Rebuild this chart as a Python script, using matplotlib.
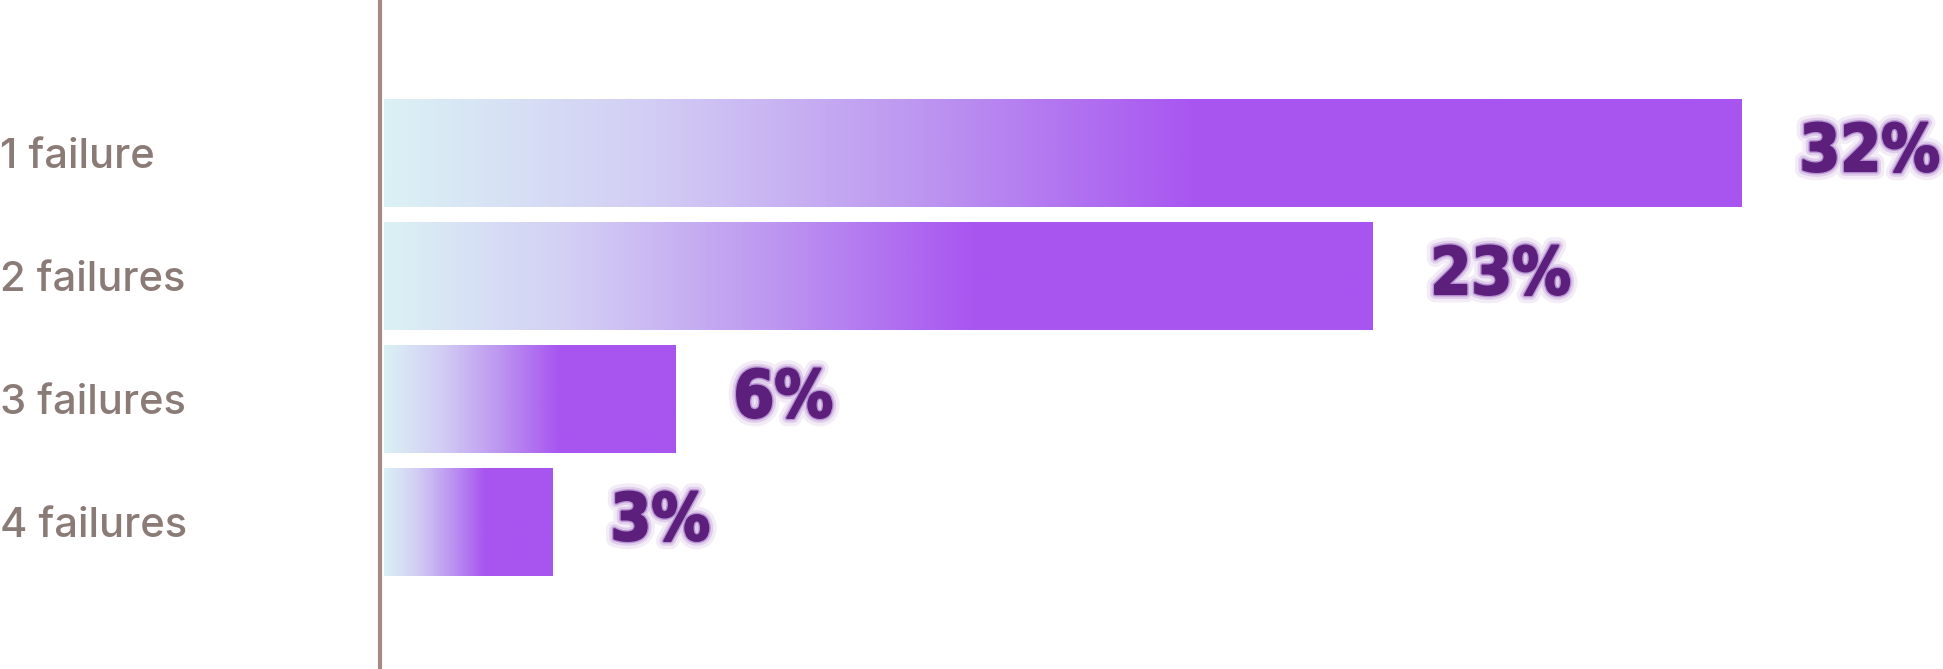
import numpy as np
import matplotlib
matplotlib.use("Agg")
import matplotlib.pyplot as plt
from matplotlib.colors import LinearSegmentedColormap
import matplotlib.patheffects as pe

categories = ["1 failure", "2 failures", "3 failures", "4 failures"]
values = [32, 23, 6, 3]
value_labels = ["32%", "23%", "6%", "3%"]

W, H, DPI = 1943, 669, 100
fig = plt.figure(figsize=(W / DPI, H / DPI), dpi=DPI)
fig.patch.set_facecolor("white")

ax_left_px = 380
ax = fig.add_axes([ax_left_px / W, 0, 1 - ax_left_px / W, 1])
ax.set_facecolor("none")

base = -1.1          # bars start slightly left of zero
px_per_unit = 41.0
xmin = base - 4 / px_per_unit
xmax = xmin + (W - ax_left_px) / px_per_unit
ax.set_xlim(xmin, xmax)

y = np.arange(len(categories))
ax.set_ylim(3 + 1.195, -1.244)
bar_h = 0.878

cmap = LinearSegmentedColormap.from_list(
    "grad", ["#DBF1F5", "#D2CCF4", "#BC95F0", "#A855F0"])
t = np.linspace(0, 1, 400)
s = np.clip(t / 0.6, 0, 1)
grad = cmap(s)[None, :, :]

for yi, v in zip(y, values):
    ax.imshow(grad, extent=(base, v, yi + bar_h / 2, yi - bar_h / 2),
              aspect="auto", interpolation="bilinear", zorder=2)

for yi, v, lab in zip(y, values, value_labels):
    ax.annotate(lab, xy=(v, yi), xytext=(42, 0), textcoords="offset points",
                ha="left", va="center", fontsize=47, fontweight="heavy",
                fontstretch="condensed",
                color="#5C1F7C",
                family=["DejaVu Sans"],
                path_effects=[pe.withStroke(linewidth=12, foreground="#F3ECF7"),
                              pe.withStroke(linewidth=7, foreground="#DFCDEB"),
                              pe.withStroke(linewidth=3.5, foreground="#B792D2"),
                              pe.withStroke(linewidth=1.5, foreground="#5C1F7C"),
                              pe.Normal()],
                zorder=3)

# spines / ticks
for side in ["top", "right", "bottom"]:
    ax.spines[side].set_visible(False)
ax.spines["left"].set_color("#A38A82")
ax.spines["left"].set_linewidth(3)
ax.set_xticks([])
ax.set_yticks(y)
ax.set_yticklabels(categories, family=["Inter", "DejaVu Sans"], fontsize=30,
                   fontweight="medium", color="#8B7B76")
ax.tick_params(axis="y", length=0, pad=ax_left_px * 72 / DPI)
for lbl in ax.get_yticklabels():
    lbl.set_horizontalalignment("left")

fig.savefig("out.png", dpi=DPI, facecolor="white")
